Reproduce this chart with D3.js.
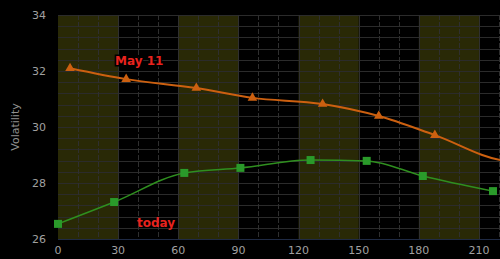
<!DOCTYPE html>
<html lang="en">
<head>
    <meta charset="UTF-8">
    <title>volatility</title>
    <style>
        body { margin: 0; background: #000; }
        text { font-family: "DejaVu Sans", sans-serif; }
    </style>
    <script src="https://d3js.org/d3.v7.min.js"></script>
</head>
<body>
<script>

    // May 11 curve (orange, triangles) - last two run past the right edge
    let mayDays = [6, 34, 69, 97, 132, 160, 188, 223, 251]
    let mayVols = [32.1, 31.71, 31.39, 31.04, 30.82, 30.39, 29.71, 28.8, 28.7]

    // today curve (green, squares)
    let todayDays = [0, 28, 63, 91, 126, 154, 182, 217]
    let todayVols = [26.54, 27.32, 28.36, 28.54, 28.82, 28.79, 28.25, 27.71]

    let xTicks = [0, 30, 60, 90, 120, 150, 180, 210]
    let yTicks = [26, 28, 30, 32, 34]
    let bands = [[0, 30], [60, 90], [120, 150], [180, 210]]

    let width = 500, height = 259
    let plotLeft = 58, plotTop = 15, plotBottom = 239

    let svg = d3.select("body").append("svg")
        .attr("width", width).attr("height", height)
        .style("display", "block")

    svg.append("rect").attr("width", width).attr("height", height).attr("fill", "#000")

    let x = d3.scaleLinear().domain([0, 221]).range([plotLeft, 501])
    let y = d3.scaleLinear().domain([26, 34]).range([plotBottom, plotTop])

    // olive bands
    svg.append("g").selectAll("rect")
        .data(bands)
        .enter().append("rect")
        .attr("x", d => x(d[0]))
        .attr("width", d => x(d[1]) - x(d[0]))
        .attr("y", plotTop)
        .attr("height", plotBottom - plotTop)
        .attr("fill", "#292906")

    // grid
    let grid = svg.append("g")
    grid.selectAll(".h")
        .data(d3.range(26, 34.01, 0.4))
        .enter().append("line")
        .attr("x1", plotLeft).attr("x2", width)
        .attr("y1", d => Math.round(y(d)) + 0.5).attr("y2", d => Math.round(y(d)) + 0.5)
        .attr("stroke", "#2b2b2b")
    grid.selectAll(".v")
        .data(d3.range(10, 221, 10))
        .enter().append("line")
        .attr("x1", d => Math.round(x(d)) + 0.5).attr("x2", d => Math.round(x(d)) + 0.5)
        .attr("y1", plotTop).attr("y2", plotBottom)
        .attr("stroke", "#2f2f2f")
        .attr("stroke-dasharray", d => d % 30 === 0 ? null : "5,2")

    // axes
    svg.append("line")
        .attr("x1", plotLeft).attr("x2", width)
        .attr("y1", plotBottom + 0.5).attr("y2", plotBottom + 0.5)
        .attr("stroke", "#1f2a44")

    svg.append("g").selectAll("text")
        .data(xTicks)
        .enter().append("text")
        .attr("x", d => x(d))
        .attr("y", 254)
        .attr("text-anchor", "middle")
        .attr("fill", "#a0a0a0")
        .attr("font-size", 11)
        .text(d => d)

    svg.append("g").selectAll("text")
        .data(yTicks)
        .enter().append("text")
        .attr("x", 46)
        .attr("y", d => y(d) + 4)
        .attr("text-anchor", "end")
        .attr("fill", "#a0a0a0")
        .attr("font-size", 11)
        .text(d => d)

    svg.append("text")
        .attr("transform", "translate(19," + (plotTop + plotBottom) / 2 + ") rotate(-90)")
        .attr("text-anchor", "middle")
        .attr("fill", "#909090")
        .attr("font-size", 11)
        .text("Volatility")

    let line = d3.line().curve(d3.curveMonotoneX)
        .x(d => x(d[0])).y(d => y(d[1]))

    let mayData = mayDays.map((d, i) => [d, mayVols[i]])
    let todayData = todayDays.map((d, i) => [d, todayVols[i]])

    svg.append("path")
        .attr("d", line(todayData))
        .attr("fill", "none")
        .attr("stroke", "#2f8f1f")
        .attr("stroke-width", 1.5)

    svg.append("g").selectAll("rect")
        .data(todayData)
        .enter().append("rect")
        .attr("x", d => x(d[0]) - 4)
        .attr("y", d => y(d[1]) - 4)
        .attr("width", 8).attr("height", 8)
        .attr("fill", "#2a9a2a")

    svg.append("path")
        .attr("d", line(mayData))
        .attr("fill", "none")
        .attr("stroke", "#cc6010")
        .attr("stroke-width", 2)

    svg.append("g").selectAll("path")
        .data(mayData)
        .enter().append("path")
        .attr("d", d3.symbol().type(d3.symbolTriangle).size(40))
        .attr("transform", d => "translate(" + x(d[0]) + "," + y(d[1]) + ")")
        .attr("fill", "#cc6010")

    // labels
    svg.append("text")
        .attr("x", 115).attr("y", 65)
        .attr("fill", "#e8231e")
        .attr("font-size", 12).attr("font-weight", "bold")
        .attr("font-family", "Liberation Sans, Arial, sans-serif")
        .attr("stroke", "#000").attr("stroke-width", 3).attr("paint-order", "stroke")
        .text("May 11")

    svg.append("text")
        .attr("x", 137).attr("y", 227)
        .attr("fill", "#e8231e")
        .attr("font-size", 12).attr("font-weight", "bold")
        .attr("font-family", "Liberation Sans, Arial, sans-serif")
        .text("today")

</script>
</body>
</html>
